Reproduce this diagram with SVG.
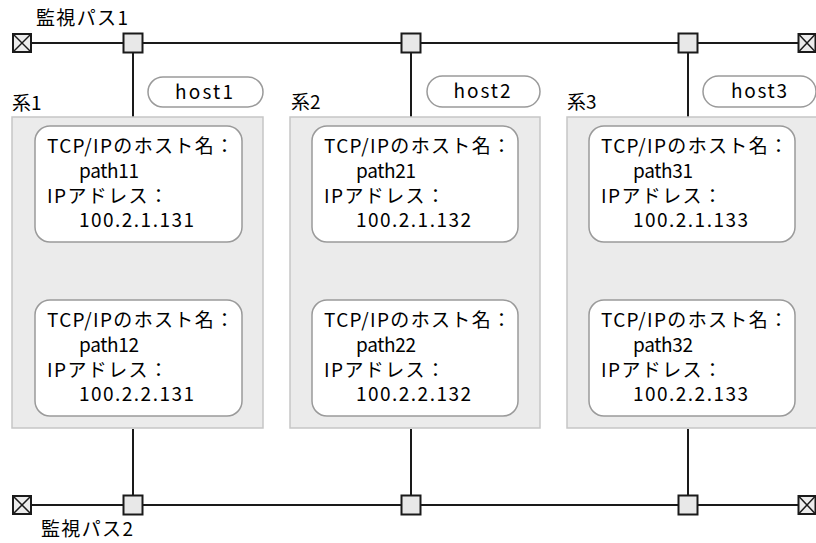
<svg xmlns="http://www.w3.org/2000/svg" width="816" height="543" viewBox="0 0 816 543">
<style>
text{font-family:"Noto Sans CJK JP","Noto Sans",sans-serif;font-size:19px;fill:#000}
.bus{stroke:#1a1a1a;stroke-width:2;fill:none}
.sq{fill:#e8e8e8;stroke:#1a1a1a;stroke-width:2}
.term{fill:#ececec;stroke:#1a1a1a;stroke-width:2}
.x{stroke:#1a1a1a;stroke-width:1.5}
.sys{fill:#ebebeb;stroke:#c6c6c6;stroke-width:1.5}
.inner{fill:#fff;stroke:#9a9a9a;stroke-width:1.5}
.pill{fill:#fff;stroke:#9a9a9a;stroke-width:1.5}
</style>
<rect width="816" height="543" fill="#fff"/>
<g id="connectors">
<line class="bus" x1="31" y1="43" x2="798" y2="43"/>
<line class="bus" x1="31" y1="505" x2="798" y2="505"/>
<line class="bus" x1="133" y1="52" x2="133" y2="117"/>
<line class="bus" x1="411" y1="52" x2="411" y2="117"/>
<line class="bus" x1="688" y1="52" x2="688" y2="117"/>
<line class="bus" x1="133" y1="429" x2="133" y2="496"/>
<line class="bus" x1="411" y1="429" x2="411" y2="496"/>
<line class="bus" x1="688" y1="429" x2="688" y2="496"/>
</g>
<g id="path1">
<text x="36" y="25" textLength="92">監視パス1</text>
<rect class="term" x="13" y="34" width="18" height="18"/>
<line class="x" x1="13" y1="34" x2="31" y2="52"/><line class="x" x1="31" y1="34" x2="13" y2="52"/>
<rect class="term" x="798.5" y="34" width="17" height="18"/>
<line class="x" x1="798.5" y1="34" x2="815.5" y2="52"/><line class="x" x1="815.5" y1="34" x2="798.5" y2="52"/>
<rect class="sq" x="123.5" y="33.5" width="19" height="19"/>
<rect class="sq" x="401.5" y="33.5" width="19" height="19"/>
<rect class="sq" x="678.5" y="33.5" width="19" height="19"/>
</g>
<g id="path2">
<text x="41" y="536" textLength="92">監視パス2</text>
<rect class="term" x="13" y="496" width="18" height="18"/>
<line class="x" x1="13" y1="496" x2="31" y2="514"/><line class="x" x1="31" y1="496" x2="13" y2="514"/>
<rect class="term" x="798.5" y="496" width="17" height="18"/>
<line class="x" x1="798.5" y1="496" x2="815.5" y2="514"/><line class="x" x1="815.5" y1="496" x2="798.5" y2="514"/>
<rect class="sq" x="123.5" y="495.5" width="19" height="19"/>
<rect class="sq" x="401.5" y="495.5" width="19" height="19"/>
<rect class="sq" x="678.5" y="495.5" width="19" height="19"/>
</g>
<g id="sys1">
<text x="12" y="110">系1</text>
<rect class="pill" x="148" y="77" width="115" height="30" rx="15"/>
<text x="204" y="99" text-anchor="middle" textLength="58">host1</text>
<rect class="sys" x="12" y="117" width="251" height="311"/>
<rect class="inner" x="35" y="126" width="207" height="116" rx="15"/>
<text x="47" y="153" textLength="187">TCP/IPのホスト名：</text>
<text x="79" y="178" textLength="60">path11</text>
<text x="47" y="203" textLength="121">IPアドレス：</text>
<text x="79" y="227" textLength="115">100.2.1.131</text>
<rect class="inner" x="35" y="300" width="207" height="116" rx="15"/>
<text x="47" y="327" textLength="187">TCP/IPのホスト名：</text>
<text x="79" y="352" textLength="60">path12</text>
<text x="47" y="377" textLength="121">IPアドレス：</text>
<text x="79" y="401" textLength="115">100.2.2.131</text>
</g>
<g id="sys2">
<text x="291" y="109">系2</text>
<rect class="pill" x="427" y="76" width="113" height="31" rx="15.5"/>
<text x="482" y="98" text-anchor="middle" textLength="57">host2</text>
<rect class="sys" x="290" y="117" width="250" height="311"/>
<rect class="inner" x="312" y="126" width="206" height="116" rx="15"/>
<text x="324" y="153" textLength="187">TCP/IPのホスト名：</text>
<text x="356" y="178" textLength="60">path21</text>
<text x="324" y="203" textLength="121">IPアドレス：</text>
<text x="356" y="227" textLength="115">100.2.1.132</text>
<rect class="inner" x="312" y="300" width="206" height="116" rx="15"/>
<text x="324" y="327" textLength="187">TCP/IPのホスト名：</text>
<text x="356" y="352" textLength="60">path22</text>
<text x="324" y="377" textLength="121">IPアドレス：</text>
<text x="356" y="401" textLength="115">100.2.2.132</text>
</g>
<g id="sys3">
<text x="567" y="109">系3</text>
<rect class="pill" x="703" y="76" width="113" height="31" rx="15.5"/>
<text x="759" y="98" text-anchor="middle" textLength="56">host3</text>
<rect class="sys" x="567" y="117" width="250" height="311"/>
<rect class="inner" x="589" y="126" width="206" height="116" rx="15"/>
<text x="601" y="153" textLength="187">TCP/IPのホスト名：</text>
<text x="633" y="178" textLength="60">path31</text>
<text x="601" y="203" textLength="121">IPアドレス：</text>
<text x="633" y="227" textLength="115">100.2.1.133</text>
<rect class="inner" x="589" y="300" width="206" height="116" rx="15"/>
<text x="601" y="327" textLength="187">TCP/IPのホスト名：</text>
<text x="633" y="352" textLength="60">path32</text>
<text x="601" y="377" textLength="121">IPアドレス：</text>
<text x="633" y="401" textLength="115">100.2.2.133</text>
</g>
</svg>
